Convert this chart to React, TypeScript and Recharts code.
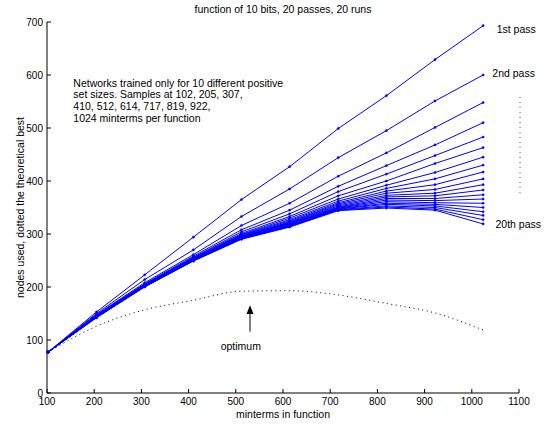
import React from "react";
import { LineChart, Line, XAxis, YAxis } from "recharts";

// sample sizes (minterms per function)
const minterms = [102, 205, 307, 410, 512, 614, 717, 819, 922, 1024];

// nodes used per pass, 1st .. 20th
const passes: number[][] = [
  [77, 153, 223, 294, 365, 427, 499, 561, 629, 693],
  [77, 150, 214, 270, 333, 385, 444, 495, 551, 600],
  [77, 148, 208, 261, 316, 358, 409, 453, 501, 548],
  [77, 147, 206, 258, 308, 345, 390, 429, 468, 510],
  [77, 146, 205, 256, 304, 338, 380, 413, 448, 483],
  [77, 146, 204, 255, 301, 333, 372, 400, 433, 463],
  [77, 145, 204, 254, 299, 330, 366, 392, 416, 445],
  [77, 145, 203, 253, 298, 327, 362, 386, 404, 430],
  [77, 145, 203, 253, 297, 325, 359, 381, 393, 417],
  [77, 144, 203, 252, 296, 323, 357, 377, 384, 404],
  [77, 144, 202, 252, 295, 322, 355, 373, 377, 393],
  [77, 144, 202, 252, 294, 321, 353, 370, 372, 383],
  [77, 144, 202, 251, 294, 320, 351, 367, 367, 374],
  [77, 144, 202, 251, 293, 319, 350, 364, 363, 366],
  [77, 143, 202, 251, 293, 318, 349, 361, 359, 358],
  [77, 143, 201, 250, 292, 317, 348, 358, 356, 350],
  [77, 143, 201, 250, 292, 316, 347, 356, 353, 342],
  [77, 143, 201, 250, 291, 315, 346, 353, 350, 335],
  [77, 143, 201, 249, 291, 314, 345, 351, 347, 327],
  [77, 142, 200, 249, 290, 313, 344, 349, 345, 319],
];

// theoretical best (dotted)
const theoreticalBest = [77, 126, 157, 175, 192, 193, 185, 169, 151, 119];

const xTicks = [100, 200, 300, 400, 500, 600, 700, 800, 900, 1000, 1100];
const yTicks = [0, 100, 200, 300, 400, 500, 600, 700];

const noteLines = [
  "Networks trained only for 10 different positive",
  "set sizes. Samples at 102, 205, 307,",
  "410, 512, 614, 717, 819, 922,",
  "1024 minterms per function",
];

const BLUE = "#0000ff";
const FONT = "'Liberation Sans', Arial, Helvetica, sans-serif";

const data = minterms.map((m, i) => {
  const row: Record<string, number> = { minterms: m, best: theoreticalBest[i] };
  passes.forEach((p, j) => {
    row[`p${j + 1}`] = p[i];
  });
  return row;
});

export default function App() {
  return (
    <div
      style={{
        position: "absolute",
        left: 0,
        top: 0,
        width: 548,
        height: 427,
        background: "#fff",
        fontFamily: FONT,
      }}
    >
      <LineChart
        width={548}
        height={427}
        data={data}
        margin={{ top: 22, right: 29, bottom: 0, left: 0 }}
      >
        <XAxis
          dataKey="minterms"
          type="number"
          domain={[100, 1100]}
          ticks={xTicks}
          interval={0}
          height={34}
          tickSize={-4}
          tickMargin={9}
          axisLine={{ stroke: "#000" }}
          tickLine={{ stroke: "#000" }}
          tick={{ fill: "#000", fontSize: 10 }}
          label={{
            value: "minterms in function",
            position: "insideBottom",
            offset: 9,
            style: { fill: "#000", fontSize: 10.5 },
          }}
        />
        <YAxis
          type="number"
          domain={[0, 700]}
          ticks={yTicks}
          interval={0}
          width={47}
          tickSize={-4}
          tickMargin={8}
          axisLine={{ stroke: "#000" }}
          tickLine={{ stroke: "#000" }}
          tick={{ fill: "#000", fontSize: 10 }}
          label={{
            value: "nodes used, dotted the theoretical best",
            angle: -90,
            position: "insideLeft",
            offset: 20,
            style: { fill: "#000", fontSize: 10.5, textAnchor: "middle" },
          }}
        />
        <Line
          dataKey="best"
          type="monotone"
          stroke="#000"
          strokeWidth={1}
          strokeDasharray="1 3.5"
          dot={false}
          isAnimationActive={false}
        />
        {passes.map((_, j) => (
          <Line
            key={j}
            dataKey={`p${j + 1}`}
            type="linear"
            stroke={BLUE}
            strokeWidth={1}
            dot={{ r: 1.1, fill: BLUE, stroke: BLUE, strokeWidth: 0.5 }}
            isAnimationActive={false}
          />
        ))}
      </LineChart>
      <svg
        width={548}
        height={427}
        style={{ position: "absolute", left: 0, top: 0, pointerEvents: "none" }}
        fontFamily={FONT}
        fontSize={10.5}
      >
        <text x={283} y={13.3} textAnchor="middle" fill="#000">
          function of 10 bits, 20 passes, 20 runs
        </text>
        {noteLines.map((t, i) => (
          <text key={i} x={73.3} y={86.7 + i * 11.7} fill="#000">
            {t}
          </text>
        ))}
        <text x={496.7} y={32.7} fill="#000">1st pass</text>
        <text x={492.3} y={76.7} fill="#000">2nd pass</text>
        <text x={495.5} y={227.7} fill="#000">20th pass</text>
        <line x1={520} y1={97} x2={520} y2={197} stroke="#555" strokeDasharray="1 4" />
        <text x={240.8} y={350} textAnchor="middle" fill="#000">optimum</text>
        <line x1={250} y1={331.7} x2={250} y2={312} stroke="#000" strokeWidth={1} />
        <polygon points="250,305.3 246.5,314 253.5,314" fill="#000" />
      </svg>
    </div>
  );
}
